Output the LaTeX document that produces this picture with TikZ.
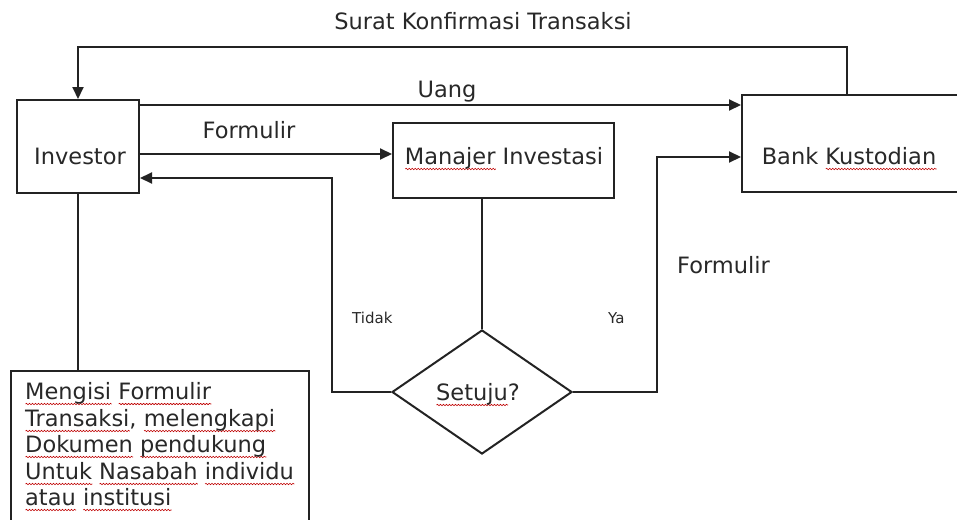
\documentclass[tikz,border=0pt]{standalone}
\usepackage{fontspec}
\setmainfont{DejaVu Sans}
\usetikzlibrary{shapes.geometric,arrows.meta,decorations.pathmorphing}
\definecolor{ln}{RGB}{35,35,35}
\definecolor{tx}{RGB}{40,40,40}
\newsavebox\sqbox
\newcommand\sq[1]{\sbox\sqbox{#1}\rlap{\raisebox{-5pt}{\tikz[baseline=0pt,x=1pt,y=1pt,line width=0.6pt]{\draw[red!75!black,decorate,decoration={snake,amplitude=0.7pt,segment length=3pt}] (0,0) -- (\wd\sqbox,0);}}}\usebox\sqbox}
\begin{document}
\begin{tikzpicture}[x=1pt,y=-1pt,
  box/.style={draw=ln, line width=2pt, rectangle, inner sep=0pt},
  big/.style={font=\fontsize{22.5}{27}\selectfont, text=tx, inner sep=0pt},
  small/.style={font=\fontsize{15}{18}\selectfont, text=tx, inner sep=0pt},
  arr/.style={draw=ln, line width=2pt, -{Triangle[length=12pt,width=11pt]}},
  wire/.style={draw=ln, line width=2pt}]
\useasboundingbox (0,0) rectangle (957,519);
\clip (0,0) rectangle (957,519);
% boxes
\node[box, minimum width=122pt, minimum height=93pt] (inv) at (78,146.5) {};
\node[big, anchor=base] (invt) at (80,164) {Investor};
\node[box, minimum width=221pt, minimum height=75pt] (mgr) at (503.5,160.5) {};
\node[big, anchor=base] (mgrt) at (504,164) {\sq{Manajer} Investasi};
\node[box, minimum width=223pt, minimum height=97pt] (bank) at (853.5,143.5) {};
\node[big, anchor=base] (bankt) at (849,164) {Bank \sq{Kustodian}};
\node[draw=ln, line width=2pt, diamond, minimum width=180pt, minimum height=124pt, inner sep=0pt] (dia) at (482,392) {};
\node[big, anchor=base] (diat) at (478,400) {\sq{Setuju}?};
\node[box, minimum width=298pt, minimum height=180pt, anchor=north west] (note) at (10,370) {};
\node[big, anchor=base west] (n1) at (25,399) {\sq{Mengisi} \sq{Formulir}};
\node[big, anchor=base west] (n2) at (25,426) {\sq{Transaksi}, \sq{melengkapi}};
\node[big, anchor=base west] (n3) at (25,452) {\sq{Dokumen} \sq{pendukung}};
\node[big, anchor=base west] (n4) at (25,479) {\sq{Untuk} \sq{Nasabah} \sq{individu}};
\node[big, anchor=base west] (n5) at (25,505) {\sq{atau} \sq{institusi}};
% labels
\node[big, anchor=base] (lsurat) at (483,30) {Surat Konfirmasi Transaksi};
\node[big, anchor=base] (luang) at (447,97) {Uang};
\node[big, anchor=base] (lform1) at (249,138) {Formulir};
\node[big, anchor=base west] (lform2) at (677,273) {Formulir};
\node[small, anchor=base west] (ltidak) at (352,323) {Tidak};
\node[small, anchor=base west] (lya) at (608,323) {Ya};
% connectors
\coordinate (sd) at (847,47);
\draw[arr] (sd |- bank.north) -- (sd) -| (inv.north);
\coordinate (uy) at (0,105);
\draw[arr] (inv.east |- uy) -- (bank.west |- uy);
\coordinate (fy) at (0,154);
\draw[arr] (inv.east |- fy) -- (mgr.west |- fy);
\coordinate (tk) at (332,178);
\draw[arr] (dia.west) -| (tk) -- (tk -| inv.east);
\draw[wire] (dia.north) -- (dia.north |- mgr.south);
\coordinate (yc) at (657,157);
\draw[arr] (dia.east) -| (yc) -- (yc -| bank.west);
\draw[wire] (inv.south) -- (inv.south |- note.north);
\end{tikzpicture}
\end{document}
